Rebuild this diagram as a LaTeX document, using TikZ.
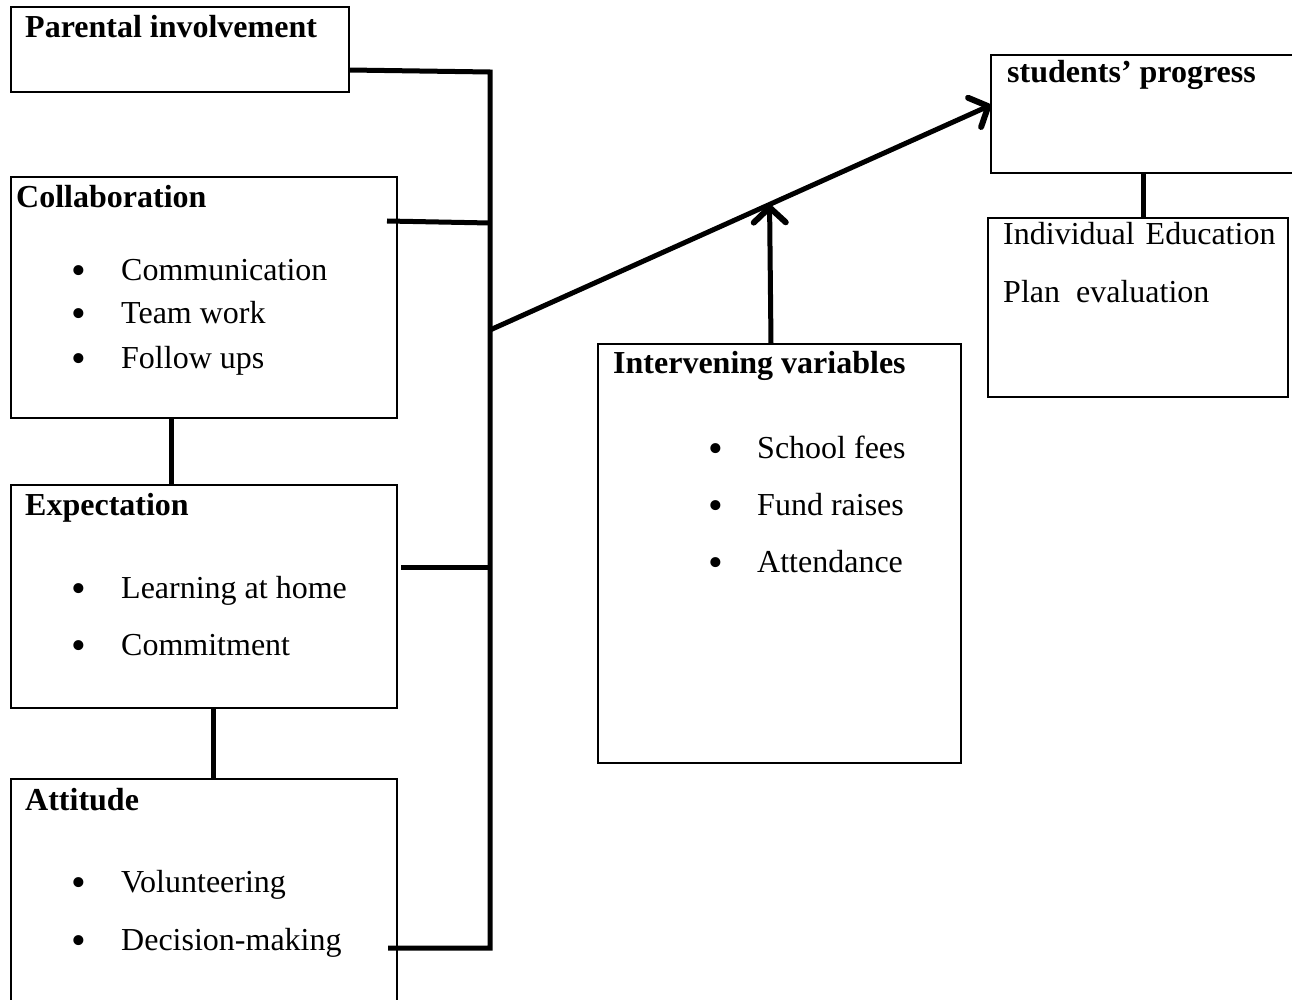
\documentclass[tikz,border=0pt]{standalone}
\usepackage{fontspec}
\setmainfont{Liberation Serif}
\usetikzlibrary{arrows.meta,calc}
\begin{document}
\begin{tikzpicture}[x=1pt,y=-1pt,
 box/.style={draw,line width=2.2pt,inner sep=0pt,outer sep=0pt,anchor=north west},
 conn/.style={line width=5pt},
 arr/.style={line width=5pt,-{Straight Barb[length=15pt,width=32pt,line width=6pt,round]}},
 head/.style={anchor=base west,inner sep=0pt,font=\fontsize{32}{38}\selectfont\bfseries},
 item/.style={anchor=base west,inner sep=0pt,font=\fontsize{32}{38}\selectfont},
 bul/.style={anchor=base,inner sep=0pt,yshift=-4pt,font=\fontsize{42}{42}\selectfont}]
\useasboundingbox (0,0) rectangle (1292,1000);
% boxes
\node[box,minimum width=338pt,minimum height=85pt] (pi) at (11,7) {};
\node[box,minimum width=386pt,minimum height=241pt] (co) at (11,177) {};
\node[box,minimum width=386pt,minimum height=223pt] (ex) at (11,485) {};
\node[box,minimum width=386pt,minimum height=260pt] (at) at (11,779) {};
\node[box,minimum width=363pt,minimum height=419pt] (iv) at (598,344) {};
\node[box,minimum width=340pt,minimum height=118pt] (sp) at (991,55) {};
\node[box,minimum width=300pt,minimum height=179pt] (iep) at (988,218) {};
% texts
\node[head] (tpi) at (25,38) {Parental involvement};
\node[head] (tco) at (16,208) {Collaboration};
\node[bul] (b1) at (79,280) {•};
\node[bul] (b2) at (79,323) {•};
\node[bul] (b3) at (79,368) {•};
\node[item] (c1) at (121,280) {Communication};
\node[item] (c2) at (121,323) {Team work};
\node[item] (c3) at (121,368) {Follow ups};
\node[head] (tex) at (25,515) {Expectation};
\node[bul] (b4) at (79,598) {•};
\node[bul] (b5) at (79,655) {•};
\node[item] (e1) at (121,598) {Learning at home};
\node[item] (e2) at (121,655) {Commitment};
\node[head] (tat) at (25,810) {Attitude};
\node[bul] (b6) at (79,892) {•};
\node[bul] (b7) at (79,950) {•};
\node[item] (a1) at (121,892) {Volunteering};
\node[item] (a2) at (121,950) {Decision-making};
\node[head] (tiv) at (613,373) {Intervening variables};
\node[bul] (b8) at (716,458) {•};
\node[bul] (b9) at (716,515) {•};
\node[bul] (b10) at (716,572) {•};
\node[item] (i1) at (757,458) {School fees};
\node[item] (i2) at (757,515) {Fund raises};
\node[item] (i3) at (757,572) {Attendance};
\node[head] (tsp) at (1007,83) {students’ progress};
\node[item] (p1) at (1003,245) {Individual\ \hspace{3pt}Education};
\node[item] (p2) at (1003,302) {Plan\ \ evaluation};
% connectors
\coordinate (t1) at (490,72);
\coordinate (t2) at (490,223);
\coordinate (t3) at (490,567);
\coordinate (t4) at (490,948);
\coordinate (j) at (490,330);
\draw[conn] ([yshift=-20.5pt]pi.east) -- (t1) -- (t4) -- ([xshift=-9pt,yshift=-39pt]at.east);
\draw[conn] ([xshift=-10pt,yshift=76.5pt]co.east) -- (t2);
\draw[conn] ([xshift=4pt,yshift=29.5pt]ex.east) -- (t3);
\coordinate (tip) at ([yshift=9pt]sp.west);
\draw[arr] (j) -- (tip);
\coordinate (m) at ($(j)!0.558!(tip)$);
\draw[arr] ([xshift=-8.5pt]iv.north) -- (m);
\draw[conn] ([xshift=-33pt]co.south) -- ([xshift=-33pt]ex.north);
\draw[conn] ([xshift=9pt]ex.south) -- ([xshift=9pt]at.north);
\draw[conn] ([xshift=5pt]iep.north) -- ([xshift=5pt]iep.north |- sp.south);
\end{tikzpicture}
\end{document}
